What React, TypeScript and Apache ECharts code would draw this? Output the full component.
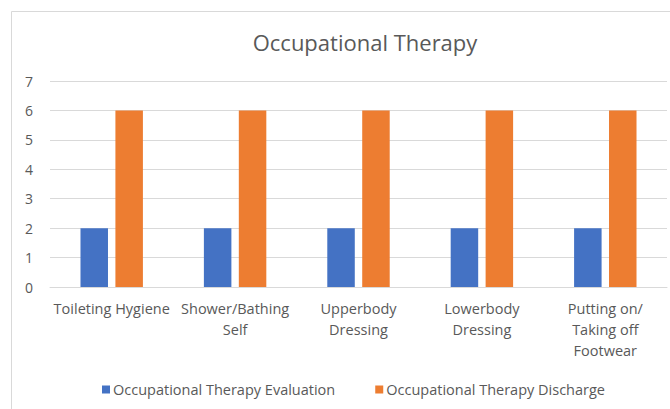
import React, { useEffect, useRef } from "react";
import * as echarts from "echarts";

const categories = [
  "Toileting Hygiene",
  "Shower/Bathing Self",
  "Upperbody Dressing",
  "Lowerbody Dressing",
  "Putting on/ Taking off Footwear",
];
const categoryLabels = [
  "Toileting Hygiene",
  "Shower/Bathing\nSelf",
  "Upperbody\nDressing",
  "Lowerbody\nDressing",
  "Putting on/\nTaking off\nFootwear",
];
const evaluation = [2, 2, 2, 2, 2];
const discharge = [6, 6, 6, 6, 6];
const seriesNames = ["Occupational Therapy Evaluation", "Occupational Therapy Discharge"];
const titleText = "Occupational Therapy";

const FONT = "Open Sans";
const TEXT = "#595959";

export default function App() {
  const ref = useRef<HTMLDivElement>(null);
  useEffect(() => {
    if (!ref.current) return;
    const chart = echarts.init(ref.current, undefined, { renderer: "svg" });
    chart.setOption({
      animation: false,
      backgroundColor: "#ffffff",
      title: {
        text: titleText,
        left: 360,
        top: 26,
        textAlign: "center",
        textStyle: { color: TEXT, fontSize: 22, fontWeight: "normal", fontFamily: FONT },
      },
      graphic: [
        {
          type: "rect",
          shape: { x: 11.5, y: 11.5, width: 700, height: 450 },
          style: { fill: "none", stroke: "#d9d9d9", lineWidth: 1 },
          silent: true,
        },
      ],
      legend: {
        left: 97,
        top: 377,
        itemWidth: 8,
        itemHeight: 8,
        itemGap: 40,
        icon: "rect",
        textStyle: { color: TEXT, fontSize: 14.5, fontFamily: FONT, padding: [0, 0, 0, -2] },
        data: seriesNames,
      },
      grid: { left: 50, right: 3, top: 81, bottom: 122 },
      xAxis: {
        type: "category",
        data: categories,
        axisLine: { lineStyle: { color: "#d9d9d9" } },
        axisTick: { show: false },
        axisLabel: {
          interval: 0,
          color: TEXT,
          fontSize: 14.5,
          fontFamily: FONT,
          lineHeight: 21,
          margin: 11,
          formatter: (_v: string, i: number) => categoryLabels[i],
        },
      },
      yAxis: {
        type: "value",
        min: 0,
        max: 7,
        interval: 1,
        axisLine: { show: false },
        axisTick: { show: false },
        splitLine: { lineStyle: { color: "#d9d9d9" } },
        axisLabel: { color: TEXT, fontSize: 14, fontFamily: FONT, margin: 17 },
      },
      series: [
        {
          name: seriesNames[0],
          type: "bar",
          data: evaluation,
          barWidth: 27.5,
          barGap: "27%",
          itemStyle: { color: "#4472C4" },
        },
        {
          name: seriesNames[1],
          type: "bar",
          data: discharge,
          barWidth: 27.5,
          barGap: "27%",
          itemStyle: { color: "#ED7D31" },
        },
      ],
    });
    return () => chart.dispose();
  }, []);
  return (
    <div
      ref={ref}
      style={{ position: "absolute", left: 0, top: 0, width: 670, height: 409 }}
    />
  );
}
